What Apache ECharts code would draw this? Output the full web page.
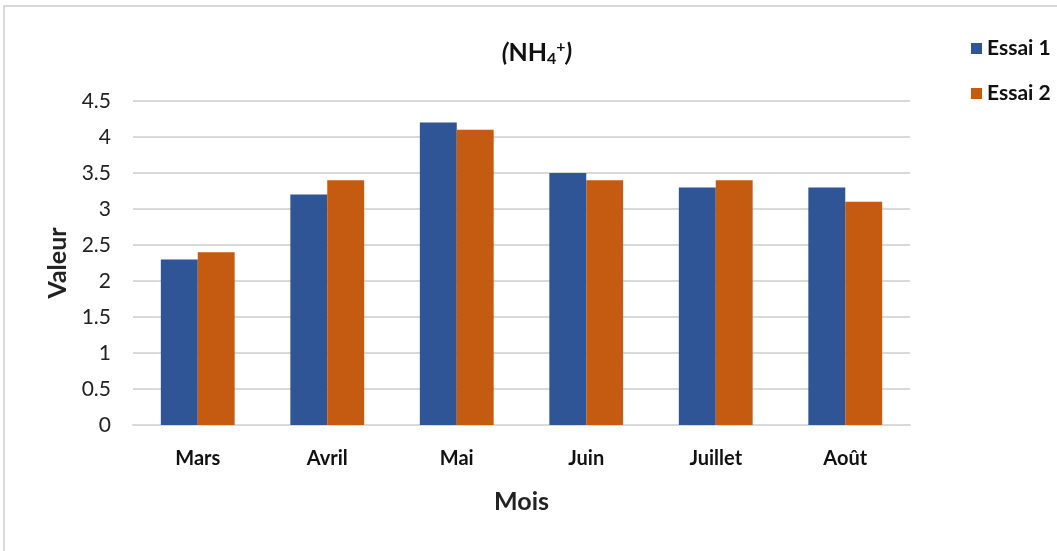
<!DOCTYPE html>
<html><head><meta charset="utf-8">
<script src="https://cdn.jsdelivr.net/npm/echarts@6/dist/echarts.min.js"></script>
<style>
html,body{margin:0;padding:0;background:#fff;}
#frame{position:absolute;left:3px;top:5px;width:1060px;height:560px;border-top:2px solid #D9D9D9;border-left:2px solid #D9D9D9;}
#chart{position:absolute;left:0;top:0;width:1057px;height:551px;}
</style></head>
<body>
<div id="frame"></div>
<div id="chart"></div>
<script>
const categories = ['Mars','Avril','Mai','Juin','Juillet','Août'];
const essai1 = [2.3, 3.2, 4.2, 3.5, 3.3, 3.3];
const essai2 = [2.4, 3.4, 4.1, 3.4, 3.4, 3.1];
const seriesNames = ['Essai 1','Essai 2'];
const font = 'Lato, "Open Sans", sans-serif';
const chart = echarts.init(document.getElementById('chart'));
chart.setOption({
  animation:false,
  textStyle:{fontFamily:font},
  title:{
    text:'{p|(}{b|NH}{sub|4}{sup|+}{p|)}',
    left:532, top:34, textAlign:'center',
    textStyle:{rich:{
      p:{fontFamily:font,fontSize:25,fontWeight:'bold',fontStyle:'italic',color:'#111'},
      b:{fontFamily:font,fontSize:25,fontWeight:'bold',color:'#111'},
      sub:{fontFamily:font,fontSize:16,fontWeight:'bold',color:'#111',verticalAlign:'bottom',padding:[12,0,0,0]},
      sup:{fontFamily:font,fontSize:16,fontWeight:'bold',color:'#111',verticalAlign:'top',padding:[0,0,12,0]}
    }}
  },
  legend:{
    orient:'vertical', left:966, top:33, itemWidth:11, itemHeight:11, itemGap:24,
    icon:'rect',
    textStyle:{fontSize:21,fontWeight:'bold',color:'#111',fontFamily:font},
    data:seriesNames
  },
  grid:{left:133,right:147,top:101,bottom:126,containLabel:false},
  xAxis:{
    type:'category', data:categories,
    name:'Mois', nameLocation:'middle', nameGap:64,
    nameTextStyle:{fontSize:25,fontWeight:'bold',color:'#222',fontFamily:font},
    axisLine:{lineStyle:{color:'#D9D9D9',width:2}},
    axisTick:{show:false},
    axisLabel:{fontSize:20,fontWeight:'bold',color:'#111',margin:24,fontFamily:font}
  },
  yAxis:{
    type:'value', min:0, max:4.5, interval:0.5,
    name:'Valeur', nameLocation:'middle', nameGap:62, nameRotate:90,
    nameTextStyle:{fontSize:25,fontWeight:'bold',color:'#222',fontFamily:font},
    axisLine:{show:false}, axisTick:{show:false},
    axisLabel:{fontSize:21,color:'#222',margin:22,fontFamily:font},
    splitLine:{lineStyle:{color:'#D9D9D9',width:2}}
  },
  series:[
    {name:seriesNames[0],type:'bar',data:essai1,barGap:'0%',barCategoryGap:'43%',
     itemStyle:{color:'#2F5597'}},
    {name:seriesNames[1],type:'bar',data:essai2,barGap:'0%',barCategoryGap:'43%',
     itemStyle:{color:'#C55A11'}}
  ]
});
</script>
</body></html>
